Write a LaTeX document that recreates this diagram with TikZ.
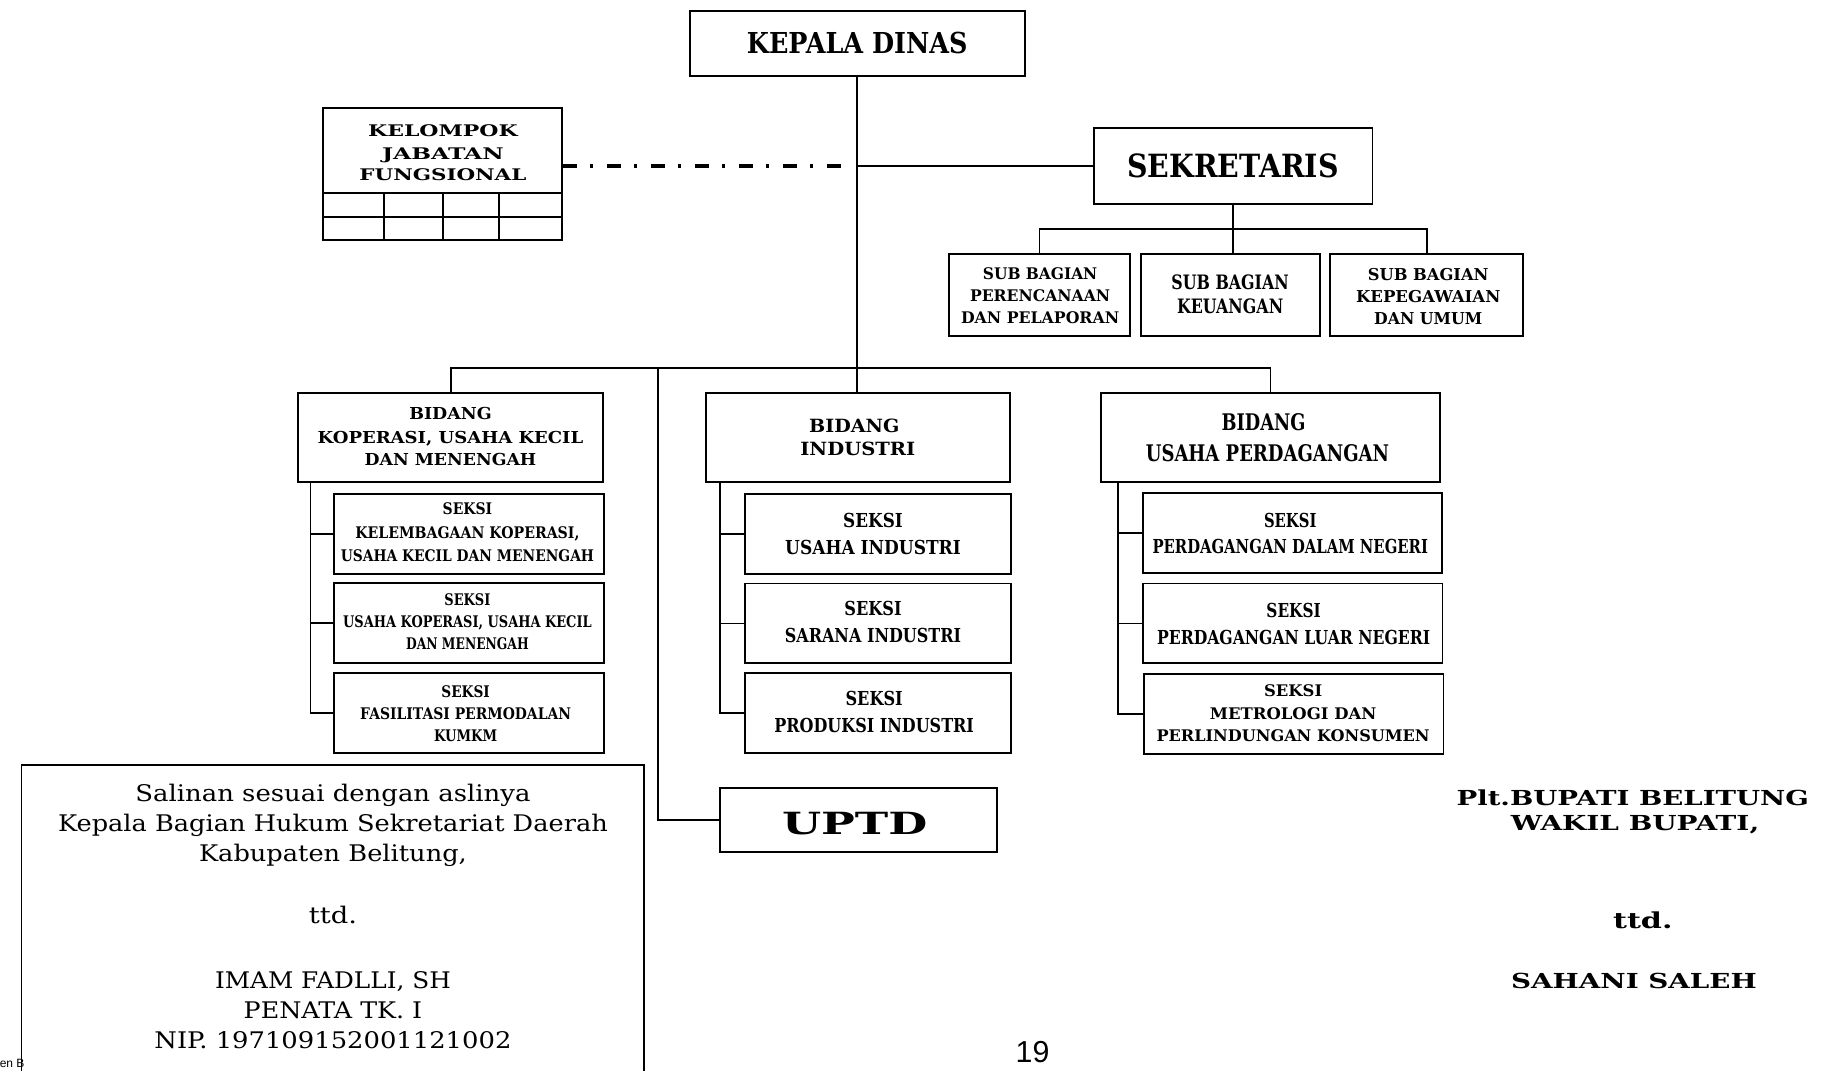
\documentclass[tikz,border=0pt]{standalone}
\usepackage{fontspec}
\setmainfont{DejaVu Serif}
\newfontfamily\lsans{Liberation Sans}
\usepackage{graphicx}
\tikzset{
  box/.style={draw=black, line width=1.6pt, inner sep=0pt, fill=none},
  conn/.style={draw=black, line width=1.6pt},
  tline/.style={anchor=base, inner sep=0pt, outer sep=0pt},
  dashdot/.style={draw=black, line width=3.5pt, dash pattern=on 11.4pt off 11.6pt on 2.9pt off 11.8pt},
}
% box: name, x1, y1, x2, y2
\newcommand\bx[5]{\node[box, minimum width={(#4-#2)*1pt}, minimum height={(#5-#3)*1pt}] (#1) at ({(#2+#4)/2},{(#3+#5)/2}) {};}
% bold text line: name, pos, size, width, text
\newcommand\tl[5]{\node[tline, font={\fontsize{#3pt}{#3pt}\selectfont\bfseries}] (#1) at (#2) {\resizebox{#4pt}{\height}{#5}};}
% regular text line
\newcommand\tr[5]{\node[tline, font={\fontsize{#3pt}{#3pt}\selectfont}] (#1) at (#2) {\resizebox{#4pt}{\height}{#5}};}
\begin{document}
\begin{tikzpicture}[x=1pt, y=-1pt]
\useasboundingbox (0,0) rectangle (1568,917);
\fill[white] (0,0) rectangle (1568,917);
\clip (0,0) rectangle (1568,917);

% ---------- boxes ----------
\bx{kd}{591}{9.5}{878}{65}
\bx{kjf}{276.5}{92.8}{481.8}{205.7}
\bx{sek}{937}{110}{1176}{175}
\bx{sb1}{813}{217.7}{968.3}{288}
\bx{sb2}{978}{217.7}{1131}{288}
\bx{sb3}{1139.7}{217.7}{1305.2}{288}
\bx{b1}{255.7}{336.5}{516.5}{412.8}
\bx{b2}{604.6}{336.5}{865.5}{412.8}
\bx{b3}{943.1}{337}{1234}{412.8}
\bx{s11}{286}{423.3}{517.4}{491.6}
\bx{s12}{286}{499.8}{517.4}{568.4}
\bx{s13}{286}{577}{517.4}{645.5}
\bx{s21}{638}{423.3}{866.4}{491.6}
\bx{s22}{638}{500}{866.4}{568.4}
\bx{s23}{638}{576.6}{866.4}{645.5}
\bx{s31}{979.3}{422.2}{1235.2}{490.7}
\bx{s32}{979.3}{500}{1236}{568.4}
\bx{s33}{980}{577.6}{1236.8}{646.4}
\bx{uptd}{616.7}{675}{854}{730.3}

% grid of the fungsional box
\draw[conn] (276.5,165.1) -- (481.8,165.1);
\draw[conn] (276.5,185.7) -- (481.8,185.7);
\foreach \gx in {329,379.3,427.6} \draw[conn] (\gx,165.1) -- (\gx,205.7);

% ---------- connectors ----------
\coordinate (dd) at (722,142);
\draw[dashdot] (kjf.east |- dd) -- (dd);
\draw[conn] (kd.south) -- (kd.south |- b2.north);
\draw[conn] (kd.south |- sek.west) -- (sek.west);
\coordinate (sbus) at (0,196);
\draw[conn] (sek.south) -- (sek.south |- sb2.north);
\draw[conn] (sb1.north) -- (sb1.north |- sbus) -- (sb3.north |- sbus) -- (sb3.north);
\coordinate (bus) at (0,315);
\draw[conn] (b1.north) -- (b1.north |- bus) -- (b3.north |- bus) -- (b3.north);
\coordinate (uv) at (563.5,315);
\draw[conn] (uv) -- (uv |- uptd.west) -- (uptd.west);
\coordinate (sp1) at (266,0);
\coordinate (sp2) at (617,0);
\coordinate (sp3) at (957.7,0);
\draw[conn] (sp1 |- b1.south) -- (sp1 |- s13.west) -- (s13.west);
\draw[conn] (sp1 |- s11.west) -- (s11.west);
\draw[conn] (sp1 |- s12.west) -- (s12.west);
\draw[conn] (sp2 |- b2.south) -- (sp2 |- s23.west) -- (s23.west);
\draw[conn] (sp2 |- s21.west) -- (s21.west);
\draw[conn] (sp2 |- s22.west) -- (s22.west);
\draw[conn] (sp3 |- b3.south) -- (sp3 |- s33.west) -- (s33.west);
\draw[conn] (sp3 |- s31.west) -- (s31.west);
\draw[conn] (sp3 |- s32.west) -- (s32.west);

% ---------- texts ----------
\tl{tkd}{734.5,45.7}{24.7}{189}{KEPALA DINAS}
\tl{tkjfa}{379.5,117}{13.7}{128}{KELOMPOK}
\tl{tkjfb}{379.5,136.3}{13.7}{104.3}{JABATAN}
\tl{tkjfc}{379.5,154.8}{13.7}{143}{FUNGSIONAL}
\tl{tsek}{1056.5,152}{27.4}{181}{SEKRETARIS}

\tl{tsba}{891.2,239.8}{13.7}{98}{SUB BAGIAN}
\tl{tsbb}{891.2,258.6}{13.7}{120}{PERENCANAAN}
\tl{tsbc}{891.2,276.9}{13.7}{135.5}{DAN PELAPORAN}
\tl{tsbd}{1054,247.8}{17}{100.5}{SUB BAGIAN}
\tl{tsbe}{1054,268.8}{17}{91}{KEUANGAN}
\tl{tsbf}{1223.7,240.2}{14}{103.4}{SUB BAGIAN}
\tl{tsbg}{1223.7,259.4}{14}{123.7}{KEPEGAWAIAN}
\tl{tsbh}{1223.7,278.2}{14}{92.5}{DAN UMUM}

\tl{tbaa}{386,359.2}{14.1}{70.6}{BIDANG}
\tl{tbab}{386,379.8}{14.1}{227.6}{KOPERASI, USAHA KECIL}
\tl{tbac}{386,398.6}{14.1}{147}{DAN MENENGAH}
\tl{tbba}{732,370.5}{15.6}{77.3}{BIDANG}
\tl{tbbb}{735,390.7}{15.6}{98.5}{INDUSTRI}
\tl{tbca}{1082.7,368.5}{19.6}{71.9}{BIDANG}
\tl{tbcb}{1086,395.7}{19.6}{208.5}{USAHA PERDAGANGAN}

\tl{ts11a}{400.5,441.2}{13.7}{42.4}{SEKSI}
\tl{ts11b}{400.5,461.4}{13.7}{192}{KELEMBAGAAN KOPERASI,}
\tl{ts11c}{400.5,481.4}{13.7}{217}{USAHA KECIL DAN MENENGAH}
\tl{ts12a}{400.5,518.6}{13.7}{39.5}{SEKSI}
\tl{ts12b}{400.5,538}{13.7}{213}{USAHA KOPERASI, USAHA KECIL}
\tl{ts12c}{400.5,556.3}{13.7}{105}{DAN MENENGAH}
\tl{ts13a}{399,597.7}{13.7}{41.5}{SEKSI}
\tl{ts13b}{399,616.8}{13.7}{180.7}{FASILITASI PERMODALAN}
\tl{ts13c}{399,635.7}{13.7}{54}{KUMKM}

\tl{ts21a}{748,452.2}{16.5}{51}{SEKSI}
\tl{ts21b}{748,475.3}{16.5}{150.4}{USAHA INDUSTRI}
\tl{ts22a}{748,527.3}{16.5}{49}{SEKSI}
\tl{ts22b}{748,550.4}{16.5}{151}{SARANA INDUSTRI}
\tl{ts23a}{749,604.4}{16.5}{49}{SEKSI}
\tl{ts23b}{749,627.3}{16.5}{171}{PRODUKSI INDUSTRI}

\tl{ts31a}{1105.5,451.6}{16.5}{44.9}{SEKSI}
\tl{ts31b}{1105.5,474.5}{16.5}{236}{PERDAGANGAN DALAM NEGERI}
\tl{ts32a}{1108.4,528.7}{16.5}{46.5}{SEKSI}
\tl{ts32b}{1108.4,552.4}{16.5}{234}{PERDAGANGAN LUAR NEGERI}
\tl{ts33a}{1108,596.8}{13.7}{49.8}{SEKSI}
\tl{ts33b}{1108,616.3}{13.7}{142.5}{METROLOGI DAN}
\tl{ts33c}{1108,635.7}{13.7}{234}{PERLINDUNGAN KONSUMEN}

\tl{tuptd}{732.3,714.6}{26.2}{124.5}{UPTD}

\tl{tplt}{1399,689.8}{17.7}{302}{Plt.BUPATI BELITUNG}
\tl{twak}{1401,711.2}{17.7}{212.7}{WAKIL BUPATI,}
\tl{tttd}{1407.6,795.5}{18.8}{51}{ttd.}
\tl{tsah}{1400,846.9}{17.7}{210.6}{SAHANI SALEH}

% ---------- copy box ----------
\bx{salinan}{18.4}{655.3}{552}{940}
\tr{tsa}{285.3,687}{19.6}{338.5}{Salinan sesuai dengan aslinya}
\tr{tsb}{285.3,712.7}{19.6}{471}{Kepala Bagian Hukum Sekretariat Daerah}
\tr{tsc}{285.3,738.4}{19.6}{229.5}{Kabupaten Belitung,}
\tr{tsd}{285.3,791.2}{19.6}{41.3}{ttd.}
\tr{tse}{285.3,847}{19.6}{202}{IMAM FADLLI, SH}
\tr{tsf}{285.3,872.7}{19.6}{153}{PENATA TK. I}
\tr{tsg}{285.3,898.4}{19.6}{306}{NIP. 197109152001121002}

\node[tline, font={\lsans\fontsize{26pt}{26pt}\selectfont}] (pg) at (884.7,910) {19};
\node[tline, anchor=base east, font={\lsans\fontsize{10.3pt}{10.3pt}\selectfont}] (ft) at (21,914.5) {en B};
\end{tikzpicture}
\end{document}
